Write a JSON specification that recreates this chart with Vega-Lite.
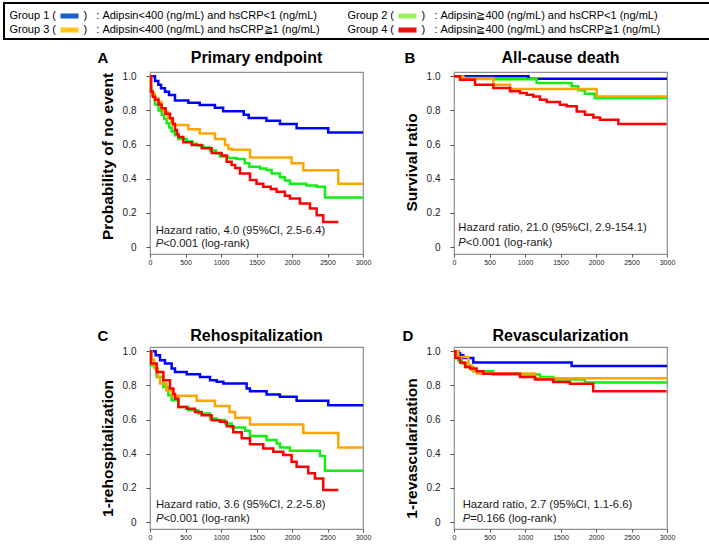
{
  "$schema": "https://vega.github.io/schema/vega-lite/v6.json",
  "background": "white",
  "padding": {"left": 3, "top": 2, "right": 2, "bottom": 0},
  "config": {
    "font": "Liberation Sans",
    "view": {"stroke": "#8f8f8f", "strokeWidth": 1.2},
    "axis": {"grid": false, "domain": false, "labelFont": "Liberation Sans", "titleFont": "Liberation Sans", "labelOverlap": false, "tickCount": 20}
  },
  "datasets": {
    "notes": [
      {"p": "A", "hr": "Hazard ratio, 4.0 (95%CI, 2.5-6.4)", "pv": "<0.001 (log-rank)", "title": "Primary endpoint", "letter": "A"},
      {"p": "B", "hr": "Hazard ratio, 21.0 (95%CI, 2.9-154.1)", "pv": "<0.001 (log-rank)", "title": "All-cause death", "letter": "B"},
      {"p": "C", "hr": "Hazard ratio, 3.6 (95%CI, 2.2-5.8)", "pv": "<0.001 (log-rank)", "title": "Rehospitalization", "letter": "C"},
      {"p": "D", "hr": "Hazard ratio, 2.7 (95%CI, 1.1-6.6)", "pv": "=0.166 (log-rank)", "title": "Revascularization", "letter": "D"}
    ],
    "km": [
      {"p":"A","g":"Group 1","t":0,"s":1},{"p":"A","g":"Group 1","t":70,"s":0.973},{"p":"A","g":"Group 1","t":117,"s":0.95},{"p":"A","g":"Group 1","t":155,"s":0.93},{"p":"A","g":"Group 1","t":211,"s":0.91},{"p":"A","g":"Group 1","t":268,"s":0.89},{"p":"A","g":"Group 1","t":352,"s":0.858},{"p":"A","g":"Group 1","t":540,"s":0.845},{"p":"A","g":"Group 1","t":700,"s":0.832},{"p":"A","g":"Group 1","t":915,"s":0.815},{"p":"A","g":"Group 1","t":1030,"s":0.795},{"p":"A","g":"Group 1","t":1320,"s":0.775},{"p":"A","g":"Group 1","t":1390,"s":0.755},{"p":"A","g":"Group 1","t":1640,"s":0.74},{"p":"A","g":"Group 1","t":1830,"s":0.72},{"p":"A","g":"Group 1","t":2065,"s":0.695},{"p":"A","g":"Group 1","t":2511,"s":0.67},{"p":"A","g":"Group 1","t":3000,"s":0.67},
      {"p":"A","g":"Group 2","t":0,"s":1},{"p":"A","g":"Group 2","t":15,"s":0.92},{"p":"A","g":"Group 2","t":30,"s":0.89},{"p":"A","g":"Group 2","t":70,"s":0.835},{"p":"A","g":"Group 2","t":120,"s":0.8},{"p":"A","g":"Group 2","t":165,"s":0.775},{"p":"A","g":"Group 2","t":200,"s":0.75},{"p":"A","g":"Group 2","t":235,"s":0.725},{"p":"A","g":"Group 2","t":270,"s":0.7},{"p":"A","g":"Group 2","t":305,"s":0.677},{"p":"A","g":"Group 2","t":350,"s":0.655},{"p":"A","g":"Group 2","t":400,"s":0.633},{"p":"A","g":"Group 2","t":516,"s":0.618},{"p":"A","g":"Group 2","t":600,"s":0.605},{"p":"A","g":"Group 2","t":660,"s":0.595},{"p":"A","g":"Group 2","t":750,"s":0.583},{"p":"A","g":"Group 2","t":845,"s":0.565},{"p":"A","g":"Group 2","t":930,"s":0.548},{"p":"A","g":"Group 2","t":985,"s":0.53},{"p":"A","g":"Group 2","t":1100,"s":0.522},{"p":"A","g":"Group 2","t":1220,"s":0.515},{"p":"A","g":"Group 2","t":1335,"s":0.49},{"p":"A","g":"Group 2","t":1400,"s":0.47},{"p":"A","g":"Group 2","t":1550,"s":0.46},{"p":"A","g":"Group 2","t":1640,"s":0.451},{"p":"A","g":"Group 2","t":1713,"s":0.431},{"p":"A","g":"Group 2","t":1830,"s":0.408},{"p":"A","g":"Group 2","t":1900,"s":0.39},{"p":"A","g":"Group 2","t":1971,"s":0.37},{"p":"A","g":"Group 2","t":2200,"s":0.36},{"p":"A","g":"Group 2","t":2347,"s":0.353},{"p":"A","g":"Group 2","t":2464,"s":0.29},{"p":"A","g":"Group 2","t":3000,"s":0.29},
      {"p":"A","g":"Group 3","t":0,"s":1},{"p":"A","g":"Group 3","t":15,"s":0.9},{"p":"A","g":"Group 3","t":60,"s":0.87},{"p":"A","g":"Group 3","t":117,"s":0.85},{"p":"A","g":"Group 3","t":160,"s":0.81},{"p":"A","g":"Group 3","t":188,"s":0.79},{"p":"A","g":"Group 3","t":249,"s":0.754},{"p":"A","g":"Group 3","t":300,"s":0.73},{"p":"A","g":"Group 3","t":330,"s":0.715},{"p":"A","g":"Group 3","t":540,"s":0.69},{"p":"A","g":"Group 3","t":700,"s":0.665},{"p":"A","g":"Group 3","t":915,"s":0.633},{"p":"A","g":"Group 3","t":1056,"s":0.598},{"p":"A","g":"Group 3","t":1103,"s":0.575},{"p":"A","g":"Group 3","t":1150,"s":0.57},{"p":"A","g":"Group 3","t":1408,"s":0.524},{"p":"A","g":"Group 3","t":1994,"s":0.49},{"p":"A","g":"Group 3","t":2159,"s":0.45},{"p":"A","g":"Group 3","t":2652,"s":0.37},{"p":"A","g":"Group 3","t":3000,"s":0.37},
      {"p":"A","g":"Group 4","t":0,"s":1},{"p":"A","g":"Group 4","t":15,"s":0.91},{"p":"A","g":"Group 4","t":40,"s":0.88},{"p":"A","g":"Group 4","t":70,"s":0.862},{"p":"A","g":"Group 4","t":120,"s":0.835},{"p":"A","g":"Group 4","t":164,"s":0.813},{"p":"A","g":"Group 4","t":220,"s":0.78},{"p":"A","g":"Group 4","t":282,"s":0.754},{"p":"A","g":"Group 4","t":320,"s":0.72},{"p":"A","g":"Group 4","t":352,"s":0.686},{"p":"A","g":"Group 4","t":380,"s":0.66},{"p":"A","g":"Group 4","t":400,"s":0.645},{"p":"A","g":"Group 4","t":469,"s":0.614},{"p":"A","g":"Group 4","t":587,"s":0.598},{"p":"A","g":"Group 4","t":728,"s":0.579},{"p":"A","g":"Group 4","t":868,"s":0.55},{"p":"A","g":"Group 4","t":1009,"s":0.536},{"p":"A","g":"Group 4","t":1080,"s":0.5},{"p":"A","g":"Group 4","t":1150,"s":0.48},{"p":"A","g":"Group 4","t":1200,"s":0.462},{"p":"A","g":"Group 4","t":1267,"s":0.43},{"p":"A","g":"Group 4","t":1408,"s":0.392},{"p":"A","g":"Group 4","t":1500,"s":0.37},{"p":"A","g":"Group 4","t":1595,"s":0.353},{"p":"A","g":"Group 4","t":1700,"s":0.34},{"p":"A","g":"Group 4","t":1783,"s":0.324},{"p":"A","g":"Group 4","t":1900,"s":0.3},{"p":"A","g":"Group 4","t":1971,"s":0.284},{"p":"A","g":"Group 4","t":2112,"s":0.255},{"p":"A","g":"Group 4","t":2253,"s":0.225},{"p":"A","g":"Group 4","t":2347,"s":0.186},{"p":"A","g":"Group 4","t":2440,"s":0.147},{"p":"A","g":"Group 4","t":2652,"s":0.147},

      {"p":"B","g":"Group 1","t":0,"s":1},{"p":"B","g":"Group 1","t":1050,"s":0.985},{"p":"B","g":"Group 1","t":3000,"s":0.985},
      {"p":"B","g":"Group 2","t":0,"s":1},{"p":"B","g":"Group 2","t":85,"s":0.99},{"p":"B","g":"Group 2","t":554,"s":0.982},{"p":"B","g":"Group 2","t":1164,"s":0.96},{"p":"B","g":"Group 2","t":1656,"s":0.941},{"p":"B","g":"Group 2","t":1750,"s":0.918},{"p":"B","g":"Group 2","t":1844,"s":0.898},{"p":"B","g":"Group 2","t":1985,"s":0.873},{"p":"B","g":"Group 2","t":3000,"s":0.873},
      {"p":"B","g":"Group 3","t":0,"s":1},{"p":"B","g":"Group 3","t":131,"s":0.984},{"p":"B","g":"Group 3","t":554,"s":0.951},{"p":"B","g":"Group 3","t":789,"s":0.925},{"p":"B","g":"Group 3","t":2009,"s":0.882},{"p":"B","g":"Group 3","t":3000,"s":0.882},
      {"p":"B","g":"Group 4","t":0,"s":1},{"p":"B","g":"Group 4","t":85,"s":0.98},{"p":"B","g":"Group 4","t":296,"s":0.951},{"p":"B","g":"Group 4","t":554,"s":0.931},{"p":"B","g":"Group 4","t":789,"s":0.912},{"p":"B","g":"Group 4","t":930,"s":0.902},{"p":"B","g":"Group 4","t":1024,"s":0.892},{"p":"B","g":"Group 4","t":1117,"s":0.882},{"p":"B","g":"Group 4","t":1211,"s":0.863},{"p":"B","g":"Group 4","t":1305,"s":0.849},{"p":"B","g":"Group 4","t":1493,"s":0.833},{"p":"B","g":"Group 4","t":1587,"s":0.824},{"p":"B","g":"Group 4","t":1728,"s":0.794},{"p":"B","g":"Group 4","t":1845,"s":0.775},{"p":"B","g":"Group 4","t":1963,"s":0.759},{"p":"B","g":"Group 4","t":2056,"s":0.745},{"p":"B","g":"Group 4","t":2315,"s":0.72},{"p":"B","g":"Group 4","t":2994,"s":0.72},

      {"p":"C","g":"Group 1","t":0,"s":1},{"p":"C","g":"Group 1","t":80,"s":0.977},{"p":"C","g":"Group 1","t":141,"s":0.947},{"p":"C","g":"Group 1","t":211,"s":0.928},{"p":"C","g":"Group 1","t":305,"s":0.899},{"p":"C","g":"Group 1","t":352,"s":0.879},{"p":"C","g":"Group 1","t":517,"s":0.865},{"p":"C","g":"Group 1","t":704,"s":0.85},{"p":"C","g":"Group 1","t":845,"s":0.83},{"p":"C","g":"Group 1","t":939,"s":0.821},{"p":"C","g":"Group 1","t":1033,"s":0.811},{"p":"C","g":"Group 1","t":1361,"s":0.782},{"p":"C","g":"Group 1","t":1408,"s":0.766},{"p":"C","g":"Group 1","t":1642,"s":0.747},{"p":"C","g":"Group 1","t":1830,"s":0.733},{"p":"C","g":"Group 1","t":2065,"s":0.71},{"p":"C","g":"Group 1","t":2511,"s":0.684},{"p":"C","g":"Group 1","t":3000,"s":0.684},
      {"p":"C","g":"Group 2","t":0,"s":1},{"p":"C","g":"Group 2","t":15,"s":0.918},{"p":"C","g":"Group 2","t":94,"s":0.85},{"p":"C","g":"Group 2","t":188,"s":0.791},{"p":"C","g":"Group 2","t":258,"s":0.743},{"p":"C","g":"Group 2","t":305,"s":0.713},{"p":"C","g":"Group 2","t":399,"s":0.674},{"p":"C","g":"Group 2","t":540,"s":0.655},{"p":"C","g":"Group 2","t":680,"s":0.635},{"p":"C","g":"Group 2","t":845,"s":0.606},{"p":"C","g":"Group 2","t":938,"s":0.597},{"p":"C","g":"Group 2","t":1056,"s":0.577},{"p":"C","g":"Group 2","t":1150,"s":0.554},{"p":"C","g":"Group 2","t":1338,"s":0.535},{"p":"C","g":"Group 2","t":1408,"s":0.503},{"p":"C","g":"Group 2","t":1642,"s":0.48},{"p":"C","g":"Group 2","t":1783,"s":0.46},{"p":"C","g":"Group 2","t":1830,"s":0.437},{"p":"C","g":"Group 2","t":1971,"s":0.417},{"p":"C","g":"Group 2","t":2394,"s":0.386},{"p":"C","g":"Group 2","t":2464,"s":0.3},{"p":"C","g":"Group 2","t":3000,"s":0.3},
      {"p":"C","g":"Group 3","t":0,"s":1},{"p":"C","g":"Group 3","t":20,"s":0.95},{"p":"C","g":"Group 3","t":60,"s":0.9},{"p":"C","g":"Group 3","t":110,"s":0.85},{"p":"C","g":"Group 3","t":141,"s":0.811},{"p":"C","g":"Group 3","t":230,"s":0.77},{"p":"C","g":"Group 3","t":305,"s":0.74},{"p":"C","g":"Group 3","t":657,"s":0.71},{"p":"C","g":"Group 3","t":915,"s":0.68},{"p":"C","g":"Group 3","t":1120,"s":0.645},{"p":"C","g":"Group 3","t":1200,"s":0.61},{"p":"C","g":"Group 3","t":1408,"s":0.571},{"p":"C","g":"Group 3","t":2159,"s":0.522},{"p":"C","g":"Group 3","t":2652,"s":0.437},{"p":"C","g":"Group 3","t":3000,"s":0.437},
      {"p":"C","g":"Group 4","t":0,"s":1},{"p":"C","g":"Group 4","t":15,"s":0.928},{"p":"C","g":"Group 4","t":94,"s":0.879},{"p":"C","g":"Group 4","t":188,"s":0.83},{"p":"C","g":"Group 4","t":282,"s":0.782},{"p":"C","g":"Group 4","t":330,"s":0.75},{"p":"C","g":"Group 4","t":352,"s":0.723},{"p":"C","g":"Group 4","t":399,"s":0.674},{"p":"C","g":"Group 4","t":517,"s":0.664},{"p":"C","g":"Group 4","t":634,"s":0.645},{"p":"C","g":"Group 4","t":728,"s":0.625},{"p":"C","g":"Group 4","t":868,"s":0.596},{"p":"C","g":"Group 4","t":985,"s":0.587},{"p":"C","g":"Group 4","t":1080,"s":0.561},{"p":"C","g":"Group 4","t":1173,"s":0.525},{"p":"C","g":"Group 4","t":1291,"s":0.49},{"p":"C","g":"Group 4","t":1408,"s":0.455},{"p":"C","g":"Group 4","t":1595,"s":0.431},{"p":"C","g":"Group 4","t":1736,"s":0.411},{"p":"C","g":"Group 4","t":1877,"s":0.392},{"p":"C","g":"Group 4","t":1994,"s":0.353},{"p":"C","g":"Group 4","t":2065,"s":0.324},{"p":"C","g":"Group 4","t":2229,"s":0.285},{"p":"C","g":"Group 4","t":2323,"s":0.255},{"p":"C","g":"Group 4","t":2440,"s":0.187},{"p":"C","g":"Group 4","t":2652,"s":0.187},

      {"p":"D","g":"Group 1","t":0,"s":1},{"p":"D","g":"Group 1","t":61,"s":0.99},{"p":"D","g":"Group 1","t":85,"s":0.977},{"p":"D","g":"Group 1","t":131,"s":0.96},{"p":"D","g":"Group 1","t":272,"s":0.934},{"p":"D","g":"Group 1","t":1657,"s":0.914},{"p":"D","g":"Group 1","t":3000,"s":0.914},
      {"p":"D","g":"Group 2","t":0,"s":1},{"p":"D","g":"Group 2","t":20,"s":0.96},{"p":"D","g":"Group 2","t":60,"s":0.947},{"p":"D","g":"Group 2","t":108,"s":0.928},{"p":"D","g":"Group 2","t":178,"s":0.908},{"p":"D","g":"Group 2","t":272,"s":0.883},{"p":"D","g":"Group 2","t":554,"s":0.864},{"p":"D","g":"Group 2","t":1211,"s":0.85},{"p":"D","g":"Group 2","t":1398,"s":0.834},{"p":"D","g":"Group 2","t":1844,"s":0.817},{"p":"D","g":"Group 2","t":3000,"s":0.817},
      {"p":"D","g":"Group 3","t":0,"s":1},{"p":"D","g":"Group 3","t":61,"s":0.967},{"p":"D","g":"Group 3","t":202,"s":0.918},{"p":"D","g":"Group 3","t":249,"s":0.889},{"p":"D","g":"Group 3","t":319,"s":0.87},{"p":"D","g":"Group 3","t":1141,"s":0.842},{"p":"D","g":"Group 3","t":3000,"s":0.842},
      {"p":"D","g":"Group 4","t":0,"s":1},{"p":"D","g":"Group 4","t":20,"s":0.96},{"p":"D","g":"Group 4","t":85,"s":0.934},{"p":"D","g":"Group 4","t":155,"s":0.908},{"p":"D","g":"Group 4","t":225,"s":0.899},{"p":"D","g":"Group 4","t":319,"s":0.883},{"p":"D","g":"Group 4","t":413,"s":0.869},{"p":"D","g":"Group 4","t":930,"s":0.85},{"p":"D","g":"Group 4","t":1141,"s":0.835},{"p":"D","g":"Group 4","t":1398,"s":0.82},{"p":"D","g":"Group 4","t":1633,"s":0.81},{"p":"D","g":"Group 4","t":1960,"s":0.766},{"p":"D","g":"Group 4","t":2994,"s":0.766}
    ]
  },
  "columns": 2,
  "bounds": "flush",
  "spacing": {"row": 93, "column": 91},
  "concat": [
    {
      "width": 213, "height": 182,
      "layer": [
        {
          "data": {"name": "km"},
          "transform": [{"filter": "datum.p === 'A'"}],
          "mark": {"type": "line", "interpolate": "step-after", "strokeWidth": 2.5},
          "encoding": {
            "x": {"field": "t", "type": "quantitative", "scale": {"domain": [0, 3000], "nice": false},
                  "axis": {"values": [0, 500, 1000, 1500, 2000, 2500, 3000], "tickCount": 20, "format": "d", "title": null, "labelFontSize": 7, "tickSize": 3, "labelPadding": 1, "labelFlush": false, "labelOverlap": false, "tickColor": "#555", "labelColor": "#222"}},
            "y": {"field": "s", "type": "quantitative", "scale": {"domain": [-0.041, 1.025], "nice": false, "zero": false},
                  "axis": {"values": [0, 0.2, 0.4, 0.6, 0.8, 1], "tickCount": 20, "labelExpr": "datum.value == 0 ? '0' : format(datum.value, '.1f')", "labelOverlap": false, "labelFontSize": 10, "tickSize": 4, "labelPadding": 10, "tickColor": "#555", "labelColor": "#222", "title": "Probability of no event", "titleFontSize": 15.5, "titleFontWeight": "bold", "titlePadding": 7, "titleColor": "#000", "titleY": 84}},
            "color": {"field": "g", "type": "nominal",
                      "scale": {"domain": ["Group 1", "Group 2", "Group 3", "Group 4"], "range": ["#0000ff", "#11ee11", "#ffa500", "#ff0000"]},
                      "legend": {
                        "orient": "none", "legendX": -146, "legendY": -69,
                        "title": null, "columns": 2, "direction": "horizontal",
                        "padding": 4, "rowPadding": -1, "columnPadding": 26,
                        "labelFontSize": 11, "labelFont": "Liberation Sans", "labelColor": "#000", "labelLimit": 1000,
                        "labelExpr": "datum.label === 'Group 1' ? 'Group 1 (\u00a0\u00a0\u00a0\u00a0\u00a0\u00a0\u00a0\u00a0\u00a0)\u00a0\u00a0\u00a0:\u00a0Adipsin<400 (ng/mL) and hsCRP<1 (ng/mL)' : datum.label === 'Group 2' ? 'Group 2 (\u00a0\u00a0\u00a0\u00a0\u00a0\u00a0\u00a0\u00a0\u00a0)\u00a0\u00a0\u00a0:\u00a0Adipsin\u2267400 (ng/mL) and hsCRP<1 (ng/mL)\u00a0\u00a0\u00a0\u00a0\u00a0\u00a0\u2800\u2800\u2800\u2800' : datum.label === 'Group 3' ? 'Group 3 (\u00a0\u00a0\u00a0\u00a0\u00a0\u00a0\u00a0\u00a0\u00a0)\u00a0\u00a0\u00a0:\u00a0Adipsin<400 (ng/mL) and hsCRP\u22671 (ng/mL)' : 'Group 4 (\u00a0\u00a0\u00a0\u00a0\u00a0\u00a0\u00a0\u00a0\u00a0)\u00a0\u00a0\u00a0:\u00a0Adipsin\u2267400 (ng/mL) and hsCRP\u22671 (ng/mL)\u00a0\u00a0\u00a0\u00a0\u00a0\u00a0\u2800\u2800\u2800\u2800'",
                        "symbolType": "M-1,-0.28L1,-0.28L1,0.28L-1,0.28Z", "symbolSize": 324, "symbolStrokeWidth": 0,
                        "symbolOffset": 52.5, "labelOffset": -69,
                        "encode": {
                          "legend": {"update": {"stroke": {"value": "#000"}, "strokeWidth": {"value": 2}}},
                          "symbols": {"update": {"fill": {"signal": "datum.value === 'Group 1' ? '#1a5fd0' : datum.value === 'Group 2' ? '#9cf05a' : datum.value === 'Group 3' ? '#ffc414' : '#ec1111'"}, "stroke": {"value": "transparent"}, "strokeWidth": {"value": 0}, "opacity": {"value": 1}}}
                        }
                      }}
          }
        },
        {
          "data": {"name": "notes"},
          "transform": [{"filter": "datum.p === 'A'"}],
          "layer": [
            {"mark": {"type": "text", "align": "left", "baseline": "middle", "fontSize": 11.3, "color": "#1a1a1a"},
             "encoding": {"x": {"datum": 80}, "y": {"datum": 0.095}, "text": {"field": "hr"}}},
            {"mark": {"type": "text", "align": "left", "baseline": "middle", "fontSize": 11.3, "fontStyle": "italic", "color": "#1a1a1a"},
             "encoding": {"x": {"datum": 80}, "y": {"datum": 0.016}, "text": {"value": "P"}}},
            {"mark": {"type": "text", "align": "left", "baseline": "middle", "fontSize": 11.3, "dx": 7.5, "color": "#1a1a1a"},
             "encoding": {"x": {"datum": 80}, "y": {"datum": 0.016}, "text": {"field": "pv"}}},
            {"mark": {"type": "text", "align": "center", "baseline": "alphabetic", "fontSize": 16, "fontWeight": "bold", "color": "#000"},
             "encoding": {"x": {"datum": 1500}, "y": {"datum": 1.08}, "text": {"field": "title"}}},
            {"mark": {"type": "text", "align": "center", "baseline": "alphabetic", "fontSize": 15, "fontWeight": "bold", "color": "#000"},
             "encoding": {"x": {"datum": -662}, "y": {"datum": 1.08}, "text": {"field": "letter"}}}
          ]
        }
      ]
    },
    {
      "width": 213, "height": 182,
      "layer": [
        {
          "data": {"name": "km"},
          "transform": [{"filter": "datum.p === 'B'"}],
          "mark": {"type": "line", "interpolate": "step-after", "strokeWidth": 2.5},
          "encoding": {
            "x": {"field": "t", "type": "quantitative", "scale": {"domain": [0, 3000], "nice": false},
                  "axis": {"values": [0, 500, 1000, 1500, 2000, 2500, 3000], "tickCount": 20, "format": "d", "title": null, "labelFontSize": 7, "tickSize": 3, "labelPadding": 1, "labelFlush": false, "labelOverlap": false, "tickColor": "#555", "labelColor": "#222"}},
            "y": {"field": "s", "type": "quantitative", "scale": {"domain": [-0.041, 1.025], "nice": false, "zero": false},
                  "axis": {"values": [0, 0.2, 0.4, 0.6, 0.8, 1], "tickCount": 20, "labelExpr": "datum.value == 0 ? '0' : format(datum.value, '.1f')", "labelOverlap": false, "labelFontSize": 10, "tickSize": 4, "labelPadding": 10, "tickColor": "#555", "labelColor": "#222", "title": "Survival ratio", "titleFontSize": 15.5, "titleFontWeight": "bold", "titlePadding": 7, "titleColor": "#000", "titleY": 90}},
            "color": {"field": "g", "type": "nominal", "scale": {"domain": ["Group 1", "Group 2", "Group 3", "Group 4"], "range": ["#0000ff", "#11ee11", "#ffa500", "#ff0000"]}}
          }
        },
        {
          "data": {"name": "notes"},
          "transform": [{"filter": "datum.p === 'B'"}],
          "layer": [
            {"mark": {"type": "text", "align": "left", "baseline": "middle", "fontSize": 11.3, "color": "#1a1a1a"},
             "encoding": {"x": {"datum": 61}, "y": {"datum": 0.11}, "text": {"field": "hr"}}},
            {"mark": {"type": "text", "align": "left", "baseline": "middle", "fontSize": 11.3, "fontStyle": "italic", "color": "#1a1a1a"},
             "encoding": {"x": {"datum": 61}, "y": {"datum": 0.022}, "text": {"value": "P"}}},
            {"mark": {"type": "text", "align": "left", "baseline": "middle", "fontSize": 11.3, "dx": 7.5, "color": "#1a1a1a"},
             "encoding": {"x": {"datum": 61}, "y": {"datum": 0.022}, "text": {"field": "pv"}}},
            {"mark": {"type": "text", "align": "center", "baseline": "alphabetic", "fontSize": 16, "fontWeight": "bold", "color": "#000"},
             "encoding": {"x": {"datum": 1500}, "y": {"datum": 1.08}, "text": {"field": "title"}}},
            {"mark": {"type": "text", "align": "center", "baseline": "alphabetic", "fontSize": 15, "fontWeight": "bold", "color": "#000"},
             "encoding": {"x": {"datum": -620}, "y": {"datum": 1.08}, "text": {"field": "letter"}}}
          ]
        }
      ]
    },
    {
      "width": 213, "height": 182,
      "layer": [
        {
          "data": {"name": "km"},
          "transform": [{"filter": "datum.p === 'C'"}],
          "mark": {"type": "line", "interpolate": "step-after", "strokeWidth": 2.5},
          "encoding": {
            "x": {"field": "t", "type": "quantitative", "scale": {"domain": [0, 3000], "nice": false},
                  "axis": {"values": [0, 500, 1000, 1500, 2000, 2500, 3000], "tickCount": 20, "format": "d", "title": null, "labelFontSize": 7, "tickSize": 3, "labelPadding": 1, "labelFlush": false, "labelOverlap": false, "tickColor": "#555", "labelColor": "#222"}},
            "y": {"field": "s", "type": "quantitative", "scale": {"domain": [-0.041, 1.025], "nice": false, "zero": false},
                  "axis": {"values": [0, 0.2, 0.4, 0.6, 0.8, 1], "tickCount": 20, "labelExpr": "datum.value == 0 ? '0' : format(datum.value, '.1f')", "labelOverlap": false, "labelFontSize": 10, "tickSize": 4, "labelPadding": 10, "tickColor": "#555", "labelColor": "#222", "title": "1-rehospitalization", "titleFontSize": 15.5, "titleFontWeight": "bold", "titlePadding": 7, "titleColor": "#000", "titleY": 101}},
            "color": {"field": "g", "type": "nominal", "scale": {"domain": ["Group 1", "Group 2", "Group 3", "Group 4"], "range": ["#0000ff", "#11ee11", "#ffa500", "#ff0000"]}}
          }
        },
        {
          "data": {"name": "notes"},
          "transform": [{"filter": "datum.p === 'C'"}],
          "layer": [
            {"mark": {"type": "text", "align": "left", "baseline": "middle", "fontSize": 11.3, "color": "#1a1a1a"},
             "encoding": {"x": {"datum": 84}, "y": {"datum": 0.099}, "text": {"field": "hr"}}},
            {"mark": {"type": "text", "align": "left", "baseline": "middle", "fontSize": 11.3, "fontStyle": "italic", "color": "#1a1a1a"},
             "encoding": {"x": {"datum": 84}, "y": {"datum": 0.018}, "text": {"value": "P"}}},
            {"mark": {"type": "text", "align": "left", "baseline": "middle", "fontSize": 11.3, "dx": 7.5, "color": "#1a1a1a"},
             "encoding": {"x": {"datum": 84}, "y": {"datum": 0.018}, "text": {"field": "pv"}}},
            {"mark": {"type": "text", "align": "center", "baseline": "alphabetic", "fontSize": 16, "fontWeight": "bold", "color": "#000"},
             "encoding": {"x": {"datum": 1500}, "y": {"datum": 1.062}, "text": {"field": "title"}}},
            {"mark": {"type": "text", "align": "center", "baseline": "alphabetic", "fontSize": 15, "fontWeight": "bold", "color": "#000"},
             "encoding": {"x": {"datum": -662}, "y": {"datum": 1.062}, "text": {"field": "letter"}}}
          ]
        }
      ]
    },
    {
      "width": 213, "height": 182,
      "layer": [
        {
          "data": {"name": "km"},
          "transform": [{"filter": "datum.p === 'D'"}],
          "mark": {"type": "line", "interpolate": "step-after", "strokeWidth": 2.5},
          "encoding": {
            "x": {"field": "t", "type": "quantitative", "scale": {"domain": [0, 3000], "nice": false},
                  "axis": {"values": [0, 500, 1000, 1500, 2000, 2500, 3000], "tickCount": 20, "format": "d", "title": null, "labelFontSize": 7, "tickSize": 3, "labelPadding": 1, "labelFlush": false, "labelOverlap": false, "tickColor": "#555", "labelColor": "#222"}},
            "y": {"field": "s", "type": "quantitative", "scale": {"domain": [-0.041, 1.025], "nice": false, "zero": false},
                  "axis": {"values": [0, 0.2, 0.4, 0.6, 0.8, 1], "tickCount": 20, "labelExpr": "datum.value == 0 ? '0' : format(datum.value, '.1f')", "labelOverlap": false, "labelFontSize": 10, "tickSize": 4, "labelPadding": 10, "tickColor": "#555", "labelColor": "#222", "title": "1-revascularization", "titleFontSize": 15.5, "titleFontWeight": "bold", "titlePadding": 7, "titleColor": "#000", "titleY": 101}},
            "color": {"field": "g", "type": "nominal", "scale": {"domain": ["Group 1", "Group 2", "Group 3", "Group 4"], "range": ["#0000ff", "#11ee11", "#ffa500", "#ff0000"]}}
          }
        },
        {
          "data": {"name": "notes"},
          "transform": [{"filter": "datum.p === 'D'"}],
          "layer": [
            {"mark": {"type": "text", "align": "left", "baseline": "middle", "fontSize": 11.3, "color": "#1a1a1a"},
             "encoding": {"x": {"datum": 122}, "y": {"datum": 0.099}, "text": {"field": "hr"}}},
            {"mark": {"type": "text", "align": "left", "baseline": "middle", "fontSize": 11.3, "fontStyle": "italic", "color": "#1a1a1a"},
             "encoding": {"x": {"datum": 122}, "y": {"datum": 0.016}, "text": {"value": "P"}}},
            {"mark": {"type": "text", "align": "left", "baseline": "middle", "fontSize": 11.3, "dx": 7.5, "color": "#1a1a1a"},
             "encoding": {"x": {"datum": 122}, "y": {"datum": 0.016}, "text": {"field": "pv"}}},
            {"mark": {"type": "text", "align": "center", "baseline": "alphabetic", "fontSize": 16, "fontWeight": "bold", "color": "#000"},
             "encoding": {"x": {"datum": 1500}, "y": {"datum": 1.062}, "text": {"field": "title"}}},
            {"mark": {"type": "text", "align": "center", "baseline": "alphabetic", "fontSize": 15, "fontWeight": "bold", "color": "#000"},
             "encoding": {"x": {"datum": -648}, "y": {"datum": 1.062}, "text": {"field": "letter"}}}
          ]
        }
      ]
    }
  ]
}
